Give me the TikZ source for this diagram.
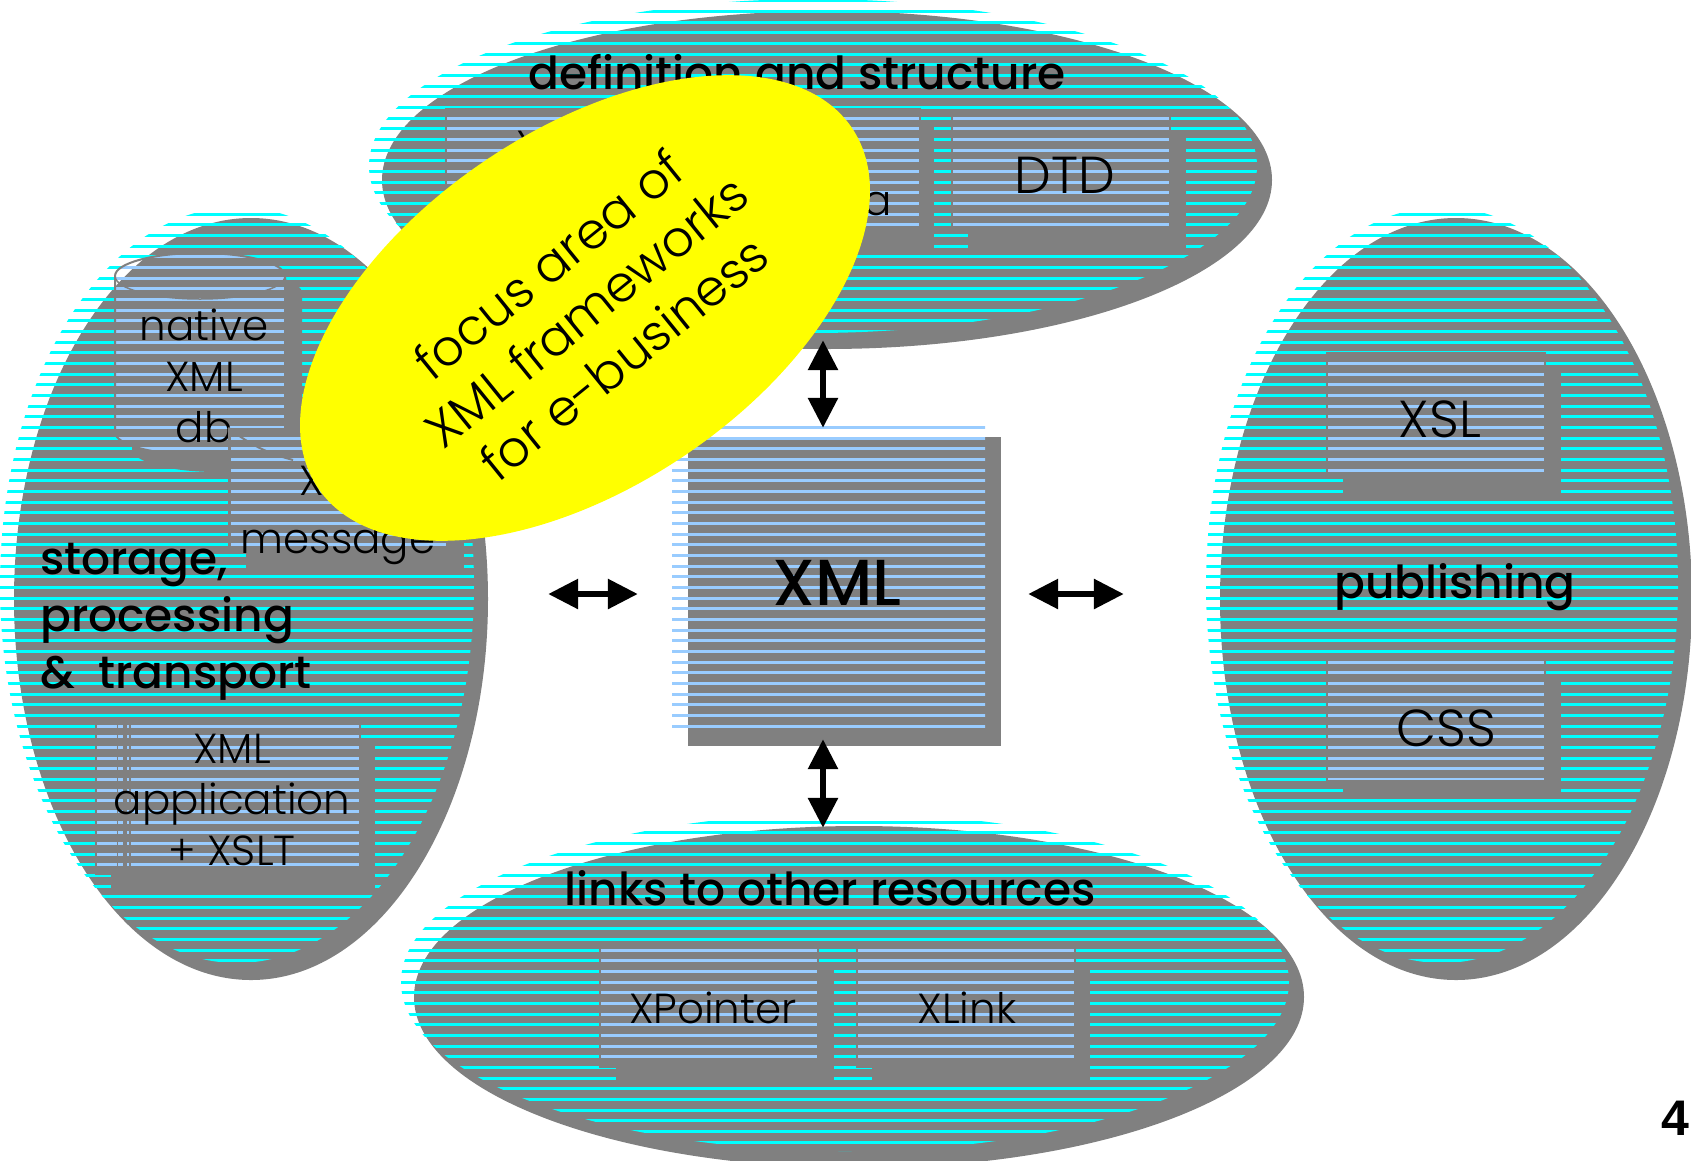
\documentclass[tikz,border=0pt]{standalone}
\usepackage{fontspec}
\setmainfont{Poppins}[UprightFont=* Light, BoldFont=* Medium]
\newfontfamily\numfont{Liberation Sans}
\usepackage{xcolor}
\usetikzlibrary{shapes,arrows.meta}

\definecolor{shadegray}{HTML}{808080}
\definecolor{areacyan}{HTML}{00FFFF}
\definecolor{panelblue}{HTML}{99CCFF}
\definecolor{focusyellow}{HTML}{FFFF00}

% horizontal lines on the one grid of the whole slide
\newcommand{\stripelines}[1]{%
    \foreach \k in {0,...,108}{%
        \pgfmathsetmacro{\yy}{0.67+10.667*\k}%
        \draw[#1, line width=3pt] ([shift={(-20pt,-\yy pt)}]origin) -- ([shift={(1720pt,-\yy pt)}]origin);
    }%
}
% outline of the db drum
\newcommand{\drumoutline}{(115,276) arc[start angle=180, end angle=0, x radius=85pt, y radius=23pt] -- (285,432) arc[start angle=0, end angle=-180, x radius=85pt, y radius=23pt] -- cycle}

\begin{document}
\begin{tikzpicture}[
    x=1pt, y=-1pt,
    backdrop/.style={ellipse, fill=shadegray, inner sep=0pt},
    area/.style={ellipse, inner sep=0pt, path picture={\stripelines{areacyan}}},
    panelshadow/.style={rectangle, fill=shadegray, inner sep=0pt, minimum width=218pt, minimum height=122pt},
    panel/.style={rectangle, draw=shadegray, line width=2.5pt, inner sep=0pt, minimum width=218pt, minimum height=122pt,
        path picture={\stripelines{panelblue}}},
    paneltext/.style={font=\fontsize{42}{51}\selectfont, align=center, anchor=base, inner sep=0pt},
    bigtext/.style={font=\fontsize{52}{60}\selectfont, anchor=base, inner sep=0pt},
    heading/.style={font=\fontsize{45.5}{57}\selectfont\bfseries, anchor=base, inner sep=0pt},
    arrow/.style={<->, >={Triangle[length=30pt,width=29pt]}, line width=6pt, black}
]
    \path[use as bounding box] (0,0) rectangle (1691,1160);
    \coordinate (origin) at (0,0);

    % definition and structure
    \node[backdrop, minimum width=890pt, minimum height=338pt] (defshadow) at (827,180) {};
    \node[area, minimum width=888pt, minimum height=334pt] (defarea) at (813,166) {};
    \node[panelshadow] (nameshadow) at (571,187) {};
    \node[panel] (namebox) at (555,170) {};
    \node[panelshadow] (schemashadow) at (825,187) {};
    \node[panel] (schemabox) at (811,170) {};
    \node[panelshadow] (dtdshadow) at (1077,191) {};
    \node[panel] (dtdbox) at (1061,172) {};
    \node[paneltext] (namelabel) at (555,160) {XML};
    \node[paneltext, anchor=base east] (schemalabel) at (892,215) {schema};
    \node[bigtext] (dtdlabel) at (1065,193) {DTD};
    \node[heading] (deftitle) at (797,89) {definition and structure};

    % storage, processing and transport
    \node[backdrop, minimum width=474pt, minimum height=762pt] (storeshadow) at (251,599) {};
    \node[area, minimum width=474pt, minimum height=756pt] (storearea) at (237,585) {};
    \fill[shadegray, xshift=17pt, yshift=-17pt] \drumoutline;
    \path[draw=shadegray, line width=2pt, path picture={\stripelines{panelblue}}] \drumoutline;
    \draw[shadegray, line width=1.5pt] (115,276) arc[start angle=180, end angle=360, x radius=85pt, y radius=23pt];
    \node[paneltext] (dblabel) at (204,442) {native\\XML\\db};
    \node[panelshadow] (messageshadow) at (354.5,508) {};
    \node[panel] (messagebox) at (338.5,490) {};
    \draw[shadegray, line width=2pt] (messagebox.north west) .. controls (255,449) and (275,455) .. (293,460);
    \node[paneltext, font=\fontsize{42}{58}\selectfont] (messagelabel) at (338,553) {XML\\message};
    \node[panelshadow, minimum width=264pt, minimum height=152pt] (appshadow) at (243,815) {};
    \node[panel, minimum width=264pt, minimum height=152pt] (appbox) at (228,798) {};
    \foreach \dx/\wd in {22.5/1.5, 30/4, 35/1.5}
        \draw[shadegray, line width=\wd pt] ([xshift=\dx pt]appbox.north west) -- ([xshift=\dx pt]appbox.south west);
    \node[paneltext] (applabel) at (232,865) {XML\\application\\+ XSLT};
    \node[heading, align=left, anchor=base west] (storetitle) at (40,688) {storage,\\processing\\\&~ transport};

    % publishing
    \node[backdrop, minimum width=472pt, minimum height=762pt] (pubshadow) at (1456,599) {};
    \node[area, minimum width=472pt, minimum height=756pt] (pubarea) at (1442,585) {};
    \node[panelshadow] (xslshadow) at (1452,432) {};
    \node[panel] (xslbox) at (1436,414) {};
    \node[bigtext] (xsllabel) at (1440,437) {XSL};
    \node[panelshadow] (cssshadow) at (1452,738) {};
    \node[panel] (cssbox) at (1436,720) {};
    \node[bigtext] (csslabel) at (1446,746) {CSS};
    \node[heading] (pubtitle) at (1455,598) {publishing};

    % links to other resources
    \node[backdrop, minimum width=890pt, minimum height=342pt] (linkshadow) at (859,997) {};
    \node[area, minimum width=888pt, minimum height=338pt] (linkarea) at (845,982) {};
    \node[panelshadow] (pointershadow) at (725,1023) {};
    \node[panel] (pointerbox) at (709,1006) {};
    \node[paneltext] (pointerlabel) at (713,1023) {XPointer};
    \node[panelshadow] (xlinkshadow) at (981,1023) {};
    \node[panel] (xlinkbox) at (966,1006) {};
    \node[paneltext] (xlinklabel) at (967,1023) {XLink};
    \node[heading] (linktitle) at (830,905) {links to other resources};

    % XML in the middle
    \node[rectangle, fill=shadegray, inner sep=0pt, minimum width=313pt, minimum height=309pt] (xmlshadow) at (844.5,591.5) {};
    \node[rectangle, inner sep=0pt, minimum width=313pt, minimum height=305pt, path picture={\stripelines{panelblue}}] (xmlbox) at (828.5,577.5) {};
    \node[anchor=base, inner sep=0pt, font=\fontsize{65}{70}\selectfont\bfseries] (xmllabel) at (837,605) {XML};

    \draw[arrow, shorten <=-9pt, shorten >=-3pt] ([xshift=-4pt]defshadow.south) -- ([xshift=-5.5pt]xmlbox.north);
    \draw[arrow, shorten <=9pt, shorten >=-2pt] ([xshift=-5.5pt]xmlbox.south) -- ([xshift=-36pt]linkshadow.north);
    \draw[arrow, shorten <=60pt, shorten >=34pt] ([yshift=5pt]storeshadow.east) -- ([yshift=-16.5pt]xmlbox.west);
    \draw[arrow, shorten <=27pt, shorten >=82pt] ([yshift=-2.5pt]xmlshadow.east) -- ([yshift=-9pt]pubarea.west);

    % focus area
    \node[ellipse, fill=focusyellow, inner sep=0pt, rotate=34, minimum width=644pt, minimum height=356pt] (focusarea) at (585,308) {};
    \node[rotate=39, align=center, inner sep=0pt, font=\fontsize{50}{60}\selectfont] (focuslabel) at (586,311) {focus area of\\XML frameworks\\for e-business};

    \node[anchor=base east, inner sep=0pt, font=\numfont\bfseries\fontsize{50}{50}\selectfont] (slidenumber) at (1689,1135) {4};
\end{tikzpicture}
\end{document}
